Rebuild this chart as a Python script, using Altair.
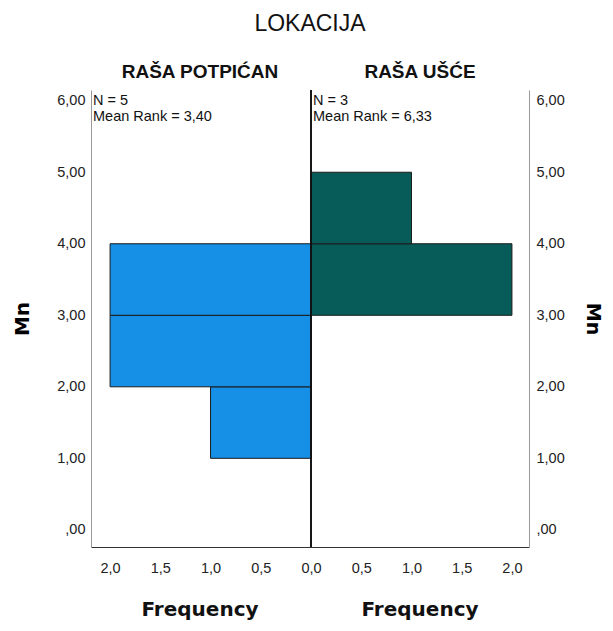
import altair as alt
import pandas as pd

groups = ["RAŠA POTPIĆAN", "RAŠA POTPIĆAN", "RAŠA POTPIĆAN", "RAŠA UŠĆE", "RAŠA UŠĆE"]
bin_lo = [1, 2, 3, 3, 4]
bin_hi = [2, 3, 4, 4, 5]
freq = [1, 2, 2, 2, 1]
side = [-1, -1, -1, 1, 1]

ann_text = ["N = 5\nMean Rank = 3,40", "N = 3\nMean Rank = 6,33"]
x_ticks = [-2, -1.5, -1, -0.5, 0, 0.5, 1, 1.5, 2]
y_ticks = [0, 1, 2, 3, 4, 5, 6]

df = pd.DataFrame({"group": groups, "lo": bin_lo, "hi": bin_hi, "freq": freq, "side": side})
df["xval"] = df["freq"] * df["side"]
df["zero"] = 0

W, H = 438, 457
xdom = [-2.19, 2.17]
ydom = [-0.24, 6.15]
FONT = "Liberation Sans"
BOLD = "DejaVu Sans"

xscale = alt.Scale(domain=xdom, nice=False, zero=False)
yscale = alt.Scale(domain=ydom, nice=False, zero=False)

xaxis = alt.Axis(values=x_ticks, labelExpr="replace(format(abs(datum.value), '.1f'), '.', ',')",
                 ticks=False, grid=False, title=None, labelPadding=14, labelFontSize=14.5,
                 labelFont=FONT, labelColor="#222", domainColor="#333", labelFlush=False)

ylabel = "datum.value == 0 ? ',00' : replace(format(datum.value, '.2f'), '.', ',')"

bars = alt.Chart(df).mark_rect(stroke="#1a1a1a", strokeWidth=1).encode(
    x=alt.X("xval:Q", scale=xscale, axis=xaxis),
    x2="zero:Q",
    y=alt.Y("lo:Q", scale=yscale,
            axis=alt.Axis(values=y_ticks, labelExpr=ylabel, ticks=False, grid=False, title="Mn",
                          titleFont=BOLD, titleFontSize=20, titleFontWeight="bold", titlePadding=24,
                          labelPadding=6, labelFontSize=14.5, labelFont=FONT, labelColor="#222",
                          domainColor="#999")),
    y2="hi:Q",
    color=alt.Color("group:N", scale=alt.Scale(domain=["RAŠA POTPIĆAN", "RAŠA UŠĆE"],
                                               range=["#1590e6", "#075c59"]), legend=None),
)

right_axis = alt.Chart(df).mark_point(opacity=0).encode(
    y=alt.Y("lo:Q", scale=yscale,
            axis=alt.Axis(orient="right", values=y_ticks, labelExpr=ylabel, ticks=False, grid=False,
                          title="Mn", titleAngle=90, titleFont=BOLD, titleFontSize=19,
                          titleFontWeight="bold", titlePadding=18, labelPadding=7, labelFontSize=14.5,
                          labelFont=FONT, labelColor="#222", domainColor="#999")),
)

center = alt.Chart(df).mark_rule(color="#111", strokeWidth=1).encode(x=alt.datum(0, scale=xscale))

ann = alt.Chart(pd.DataFrame({"t": ann_text, "px": [2, 222]})).mark_text(
    align="left", baseline="middle", font=FONT, fontSize=14.5, lineBreak="\n", lineHeight=16,
    color="#111").encode(x=alt.X("px:Q", scale=None), y=alt.value(11), text="t:N")

heads = alt.Chart(pd.DataFrame({"t": ["RAŠA POTPIĆAN", "RAŠA UŠĆE"], "px": [109, 329]})).mark_text(
    align="center", baseline="middle", font=FONT, fontSize=19, fontWeight="bold",
    color="#111").encode(x=alt.X("px:Q", scale=None), y=alt.value(-18), text="t:N")

freqs = alt.Chart(pd.DataFrame({"t": ["Frequency", "Frequency"], "px": [109, 329]})).mark_text(
    align="center", baseline="middle", font=BOLD, fontSize=20, fontWeight="bold",
    color="#111").encode(x=alt.X("px:Q", scale=None), y=alt.value(H + 63), text="t:N")

chart = alt.layer(bars, center, ann, heads, freqs, right_axis).resolve_scale(
    y="independent"
).properties(
    width=W, height=H,
    background="white",
    autosize=alt.AutoSizeParams(type="none"),
    padding={"left": 83, "top": 82, "right": 76, "bottom": 76},
    title=alt.TitleParams("LOKACIJA", font=FONT, fontSize=23, fontWeight="normal",
                          anchor="middle", offset=27, color="#111"),
).configure_view(stroke=None)

chart.save("out.html", embed_options={"renderer": "svg", "actions": False})
